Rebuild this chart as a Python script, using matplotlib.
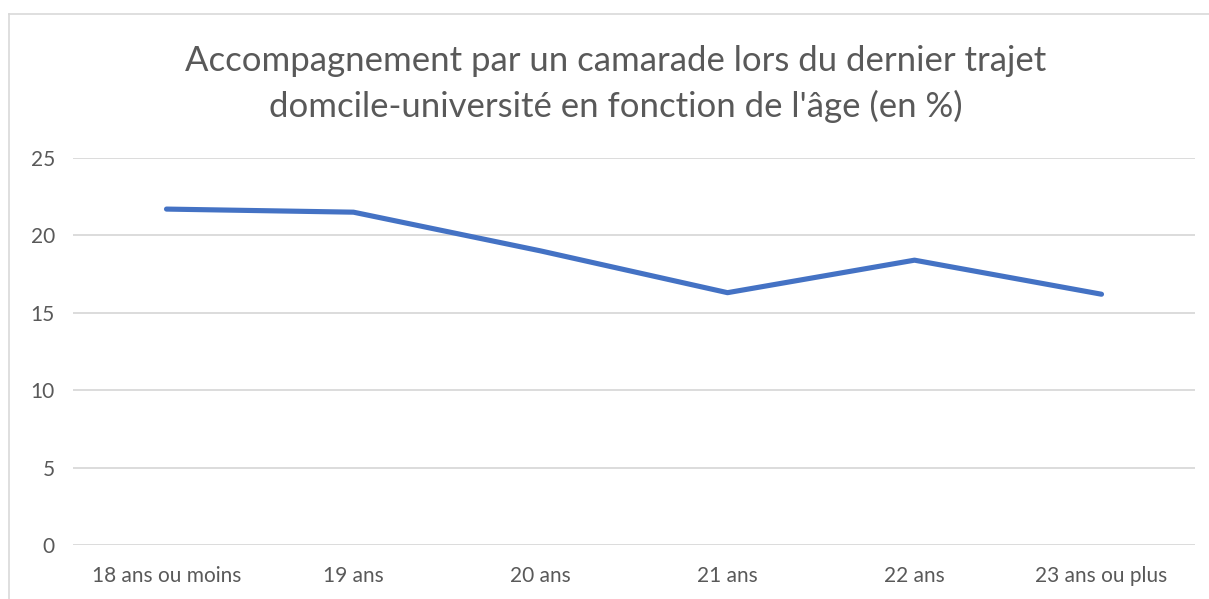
import matplotlib
matplotlib.use("Agg")
import matplotlib.pyplot as plt
from matplotlib.lines import Line2D

# share of students accompanied by a classmate, by age group (%)
ages = ["18 ans ou moins", "19 ans", "20 ans", "21 ans", "22 ans", "23 ans ou plus"]
pct = [21.7, 21.5, 19.0, 16.3, 18.4, 16.2]
yticks = [0, 5, 10, 15, 20, 25]

TEXT = "#595959"
GRID = "#D9D9D9"
BLUE = "#4472C4"

plt.rcParams["font.family"] = ["Lato", "DejaVu Sans"]

W, H = 1209, 599
fig = plt.figure(figsize=(W / 100, H / 100), dpi=100)

# chart frame (light border along top and left)
fig.add_artist(Line2D([9 / W, 1], [1 - 14 / H, 1 - 14 / H], color=GRID, lw=1.2))
fig.add_artist(Line2D([9 / W, 9 / W], [0, 1 - 14 / H], color=GRID, lw=1.2))

left, right, top, bottom = 73, 1195, 158, 545
ax = fig.add_axes([left / W, 1 - bottom / H, (right - left) / W, (bottom - top) / H])

x = list(range(len(ages)))
ax.plot(x, pct, color=BLUE, lw=3.7, solid_capstyle="round", solid_joinstyle="round",
        zorder=3)

ax.set_xlim(-0.5, len(ages) - 0.5)
ax.set_ylim(0, 25)
ax.set_yticks(yticks)
ax.set_xticks(x)
ax.set_xticklabels(ages)
ax.grid(axis="y", color=GRID, lw=1.3)
ax.set_axisbelow(True)
for s in ax.spines.values():
    s.set_visible(False)
ax.tick_params(axis="both", length=0, colors=TEXT, labelsize=15)
ax.tick_params(axis="y", pad=13)
ax.tick_params(axis="x", pad=15)

title_x = 616 / W
fig.text(title_x, 1 - 61 / H, "Accompagnement par un camarade lors du dernier trajet",
         ha="center", va="center", fontsize=25, color=TEXT)
fig.text(title_x, 1 - 106 / H, "domcile-université en fonction de l'âge (en %)",
         ha="center", va="center", fontsize=25, color=TEXT)

fig.savefig("out.png", dpi=100, facecolor="white")
